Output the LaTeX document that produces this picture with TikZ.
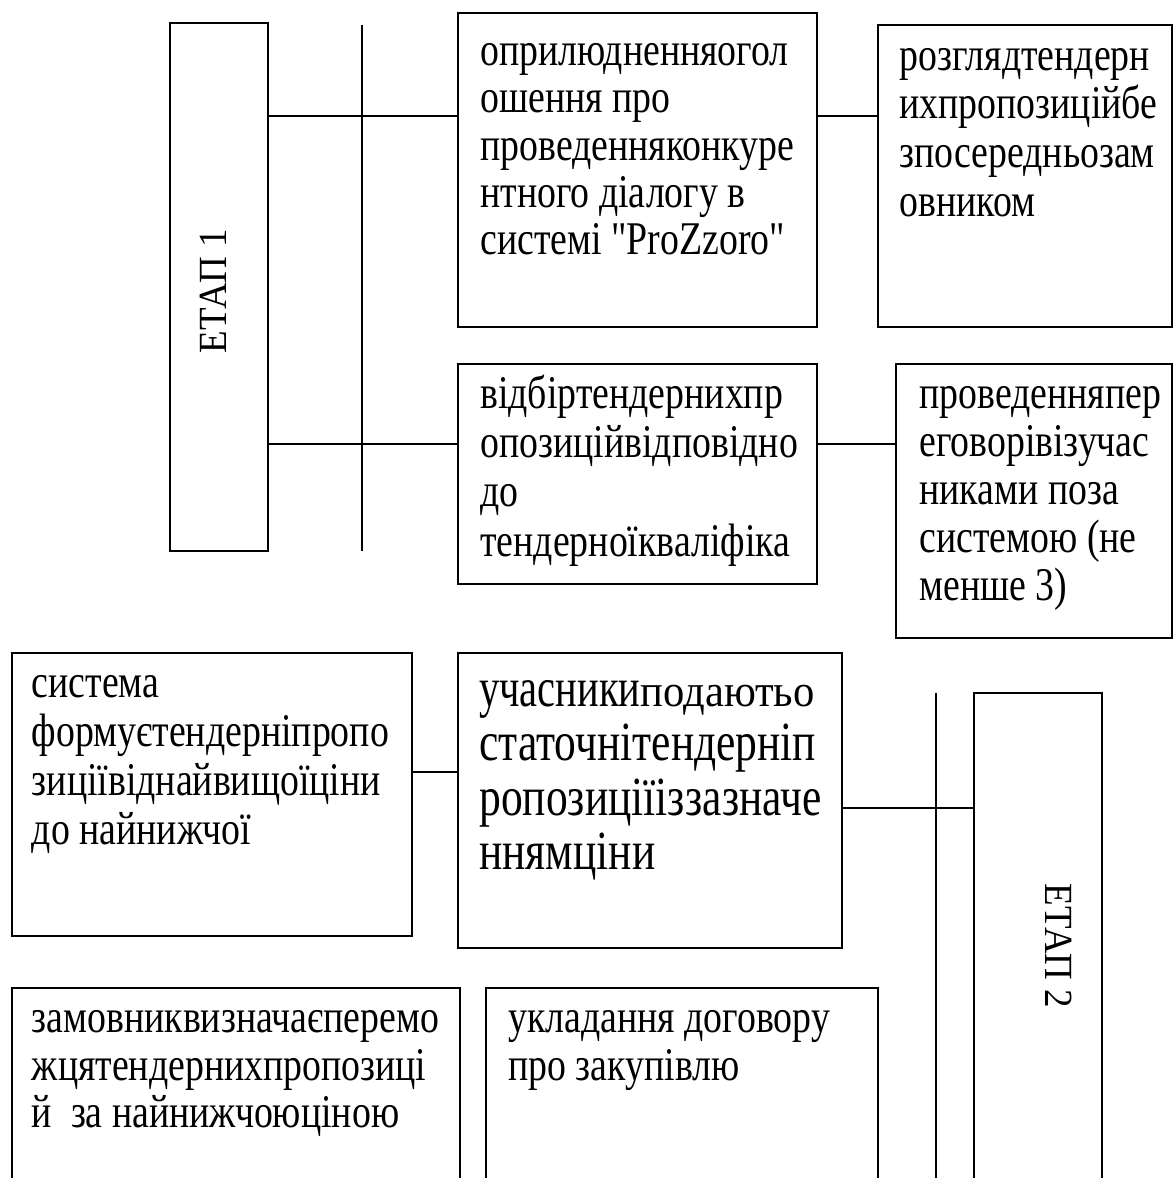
\documentclass[tikz,border=0pt]{standalone}
\usepackage{fontspec}
\setmainfont{Liberation Serif}[Ligatures=TeXOff]
\usepackage{graphicx}
\usetikzlibrary{fit}
\newcommand\mylines[3][1.24]{\scalebox{1}[#1]{\vtop{\baselineskip=#2\lineskiplimit=-\maxdimen\lineskip=0pt\halign{##\hfil\cr#3\crcr}}}}
\begin{document}
\begin{tikzpicture}[x=0.5pt,y=-0.5pt,
  box/.style={draw, line width=1pt, inner sep=0pt},
  conn/.style={line width=1pt},
  txt/.style={anchor=base west, inner sep=0pt, font=\fontsize{18.9}{20}\selectfont},
  bigtxt/.style={anchor=base west, inner sep=0pt, font=\fontsize{21.75}{24}\selectfont},
  stage/.style={inner sep=0pt, font=\fontsize{18.5}{20}\selectfont}]
\useasboundingbox (0,0) rectangle (1173,1178);
\clip (0,0) rectangle (1173,1178);
% boxes
\node[box, fit={(170,23) (268,551)}] (e1) {};
\node[box, fit={(458,13) (817,327)}] (a) {};
\node[box, fit={(878,25) (1172,327)}] (b) {};
\node[box, fit={(458,364) (817,584)}] (c) {};
\node[box, fit={(896,364) (1172,638)}] (d) {};
\node[box, fit={(12,653) (412,936)}] (e) {};
\node[box, fit={(458,653) (842,948)}] (f) {};
\node[box, fit={(974,693) (1102,1200)}] (e2) {};
\node[box, fit={(12,988) (460,1200)}] (g) {};
\node[box, fit={(486,988) (878,1200)}] (h) {};
% helper coordinates
\coordinate (v1t) at (362,25);
\coordinate (v1b) at (362,551);
\coordinate (v2t) at (936,693);
\coordinate (v2b) at (936,1200);
\coordinate (r1) at (0,115.5);
\coordinate (r2) at (0,444);
\coordinate (r3) at (0,772);
\coordinate (r4) at (0,808);
% connectors
\draw[conn] (v1t) -- (v1b);
\draw[conn] (e1.east |- r1) -- (a.west |- r1);
\draw[conn] (e1.east |- r2) -- (c.west |- r2);
\draw[conn] (a.east |- r1) -- (b.west |- r1);
\draw[conn] (c.east |- r2) -- (d.west |- r2);
\draw[conn] (e.east |- r3) -- (f.west |- r3);
\draw[conn] (f.east |- r4) -- (e2.west |- r4);
\draw[conn] (v2t) -- (v2b);
% texts
\node[stage, rotate=90] (te1) at (213,291) {\scalebox{1}[1.08]{ЕТАП 1}};
\node[stage, rotate=-90] (te2) at (1059,946) {\scalebox{1}[1.08]{ЕТАП 2}};
\node[txt] (ta) at (480,65.7) {\mylines{19.05pt}{оприлюдненняогол\cr ошення про\cr проведенняконкуре\cr нтного діалогу в\cr системі "ProZzoro"}};
\node[txt] (tb) at (899,70) {\mylines{19.75pt}{розглядтендерн\cr ихпропозиційбе\cr зпосередньозам\cr овником}};
\node[txt] (tc) at (480,408) {\mylines{19.95pt}{відбіртендернихпр\cr опозиційвідповідно\cr до\cr тендерноїкваліфіка}};
\node[txt] (td) at (919,408) {\mylines{19.45pt}{проведенняпер\cr еговорівізучас\cr никами поза\cr системою (не\cr менше 3)}};
\node[txt] (te) at (31.5,697) {\mylines{19.85pt}{система\cr формуєтендерніпропо\cr зиціївіднайвищоїціни\cr до найнижчої}};
\node[bigtxt] (tf) at (479,706) {\mylines[1.27]{21.5pt}{\scalebox{0.93}[1]{учасники}\scalebox{0.98}[0.82]{подаютьо}\cr статочнітендерніп\cr ропозиціїіззазначе\cr ннямціни}};
\node[txt] (tg) at (31.5,1032) {\mylines{19.35pt}{замовниквизначаєперемо\cr жцятендернихпропозиці\cr й\ \ за найнижчоюціною}};
\node[txt] (th) at (508,1032) {\mylines{19.35pt}{укладання договору\cr про закупівлю}};
\end{tikzpicture}
\end{document}
